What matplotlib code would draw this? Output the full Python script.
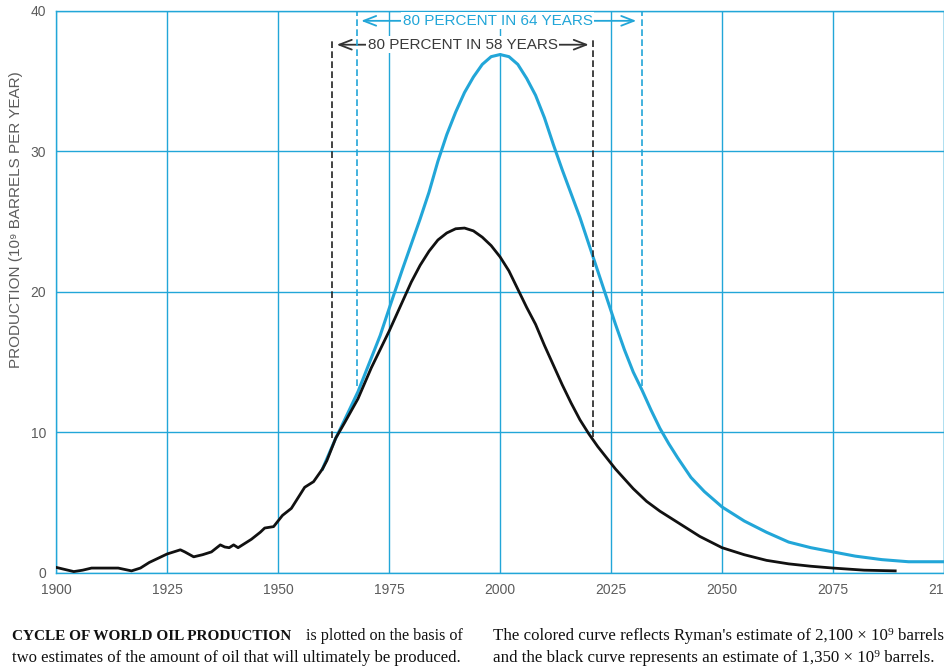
import matplotlib
matplotlib.use("Agg")
import matplotlib.pyplot as plt

# black curve: history + 1350e9 bbl estimate
years_black = [1900, 1902, 1904, 1906, 1908, 1911, 1914, 1917, 1919, 1921, 1923, 1925,
               1927, 1928, 1929, 1931, 1933, 1935, 1937, 1938, 1939, 1940, 1941, 1943,
               1944, 1946, 1947, 1949, 1951, 1953, 1955, 1956, 1958, 1960, 1961, 1963,
               1965, 1968, 1971, 1975, 1978, 1980, 1982, 1984, 1986, 1988, 1990, 1992,
               1994, 1996, 1998, 2000, 2002, 2004, 2006, 2008, 2010, 2012, 2014, 2016,
               2018, 2020, 2022, 2024, 2026, 2028, 2030, 2033, 2036, 2040, 2045, 2050,
               2055, 2060, 2065, 2070, 2075, 2082, 2089]
prod_black = [0.4, 0.25, 0.1, 0.2, 0.35, 0.35, 0.35, 0.15, 0.35, 0.75, 1.05, 1.35,
              1.55, 1.65, 1.5, 1.15, 1.3, 1.5, 2.0, 1.85, 1.8, 2.0, 1.8, 2.2,
              2.4, 2.9, 3.2, 3.3, 4.1, 4.6, 5.6, 6.1, 6.5, 7.4, 8.0, 9.6,
              10.7, 12.4, 14.6, 17.2, 19.3, 20.7, 21.9, 22.9, 23.7, 24.2, 24.5, 24.55,
              24.35, 23.9, 23.3, 22.5, 21.5, 20.2, 18.9, 17.7, 16.2, 14.8, 13.4, 12.1,
              10.9, 9.9, 9.0, 8.2, 7.4, 6.7, 6.0, 5.1, 4.4, 3.6, 2.6, 1.8,
              1.3, 0.9, 0.65, 0.48, 0.35, 0.2, 0.15]

# coloured curve: Ryman's 2100e9 bbl estimate
years_blue = [1960, 1963, 1965, 1968, 1971, 1973, 1975, 1978, 1980, 1982, 1984, 1986,
              1988, 1990, 1992, 1994, 1996, 1998, 2000, 2002, 2004, 2006, 2008, 2010,
              2012, 2014, 2016, 2018, 2020, 2022, 2024, 2026, 2028, 2030, 2032, 2034,
              2036, 2038, 2040, 2043, 2046, 2050, 2055, 2060, 2065, 2070, 2075, 2080,
              2086, 2092, 2100]
prod_blue = [7.4, 9.6, 10.9, 12.9, 15.3, 16.9, 18.8, 21.6, 23.4, 25.2, 27.1, 29.3,
             31.2, 32.8, 34.2, 35.3, 36.2, 36.75, 36.9, 36.75, 36.2, 35.2, 34.0, 32.4,
             30.5, 28.7, 27.0, 25.3, 23.4, 21.5, 19.6, 17.7, 15.9, 14.3, 13.0, 11.6,
             10.3, 9.2, 8.2, 6.8, 5.8, 4.7, 3.7, 2.9, 2.2, 1.8, 1.5, 1.2,
             0.95, 0.8, 0.8]

x_ticks = [1900, 1925, 1950, 1975, 2000, 2025, 2050, 2075, 2100]
y_ticks = [0, 10, 20, 30, 40]

blue = "#22a6d8"
gray = "#5c5c5c"
sans = ["Liberation Sans", "DejaVu Sans"]
serif = ["Liberation Serif", "DejaVu Serif"]

fig = plt.figure(figsize=(9.45, 6.7), dpi=100)
ax = fig.add_axes([0.0593, 0.1448, 0.9397, 0.8388])

ax.plot(years_blue, prod_blue, color=blue, lw=2.2, zorder=3)
ax.plot(years_black, prod_black, color="#111111", lw=2.0, zorder=4)

ax.set_xlim(1900, 2100)
ax.set_ylim(0, 40)
ax.set_xticks(x_ticks)
ax.set_yticks(y_ticks)
ax.grid(color=blue, lw=1.0, zorder=1)
for s in ax.spines.values():
    s.set_color(blue)
    s.set_linewidth(1.0)
ax.tick_params(length=0, colors=gray, labelsize=10, pad=7)
for lab in ax.get_xticklabels() + ax.get_yticklabels():
    lab.set_family(sans)
ax.set_ylabel("PRODUCTION (10⁹ BARRELS PER YEAR)", color=gray, fontsize=11,
              family=sans)
ax.yaxis.set_label_coords(-0.037, 0.628)

# 80 percent markers
ax.vlines([1962.2, 2021.0], [9.6, 9.7], 38.1, colors="#222222", linestyles=(0, (4, 2)), lw=1.2, zorder=5)
ax.vlines([1967.7, 2032.0], 13.3, 40, colors=blue, linestyles=(0, (4, 2)), lw=1.2, zorder=5)

ax.annotate("", xy=(1962.6, 37.6), xytext=(2020.6, 37.6),
            arrowprops=dict(arrowstyle="<->,head_length=0.9,head_width=0.35", color="#333333", lw=1.3))
ax.annotate("", xy=(1968.1, 39.3), xytext=(2031.3, 39.3),
            arrowprops=dict(arrowstyle="<->,head_length=0.9,head_width=0.35", color=blue, lw=1.3))
ax.text(1991.6, 37.6, "80 PERCENT IN 58 YEARS", color="#3a3a3a", fontsize=11, family=sans,
        ha="center", va="center", bbox=dict(fc="white", ec="none", pad=1.0), zorder=6)
ax.text(1999.5, 39.3, "80 PERCENT IN 64 YEARS", color=blue, fontsize=11, family=sans,
        ha="center", va="center", bbox=dict(fc="white", ec="none", pad=1.0), zorder=6)

# caption, two justified-looking columns
cap = dict(family=serif, color="#111111", va="baseline")
fig.text(0.013, 0.045, "CYCLE OF WORLD OIL PRODUCTION", fontsize=11.0, fontweight="bold", **cap)
fig.text(0.490, 0.045, "is plotted on the basis of", fontsize=11.6, ha="right", **cap)
fig.text(0.013, 0.012, "two estimates of the amount of oil that will ultimately be produced.", fontsize=12, **cap)
fig.text(0.522, 0.045, "The colored curve reflects Ryman's estimate of 2,100 × 10⁹ barrels", fontsize=12.2, **cap)
fig.text(0.522, 0.012, "and the black curve represents an estimate of 1,350 × 10⁹ barrels.", fontsize=12.2, **cap)

fig.savefig("out.png", dpi=100)
